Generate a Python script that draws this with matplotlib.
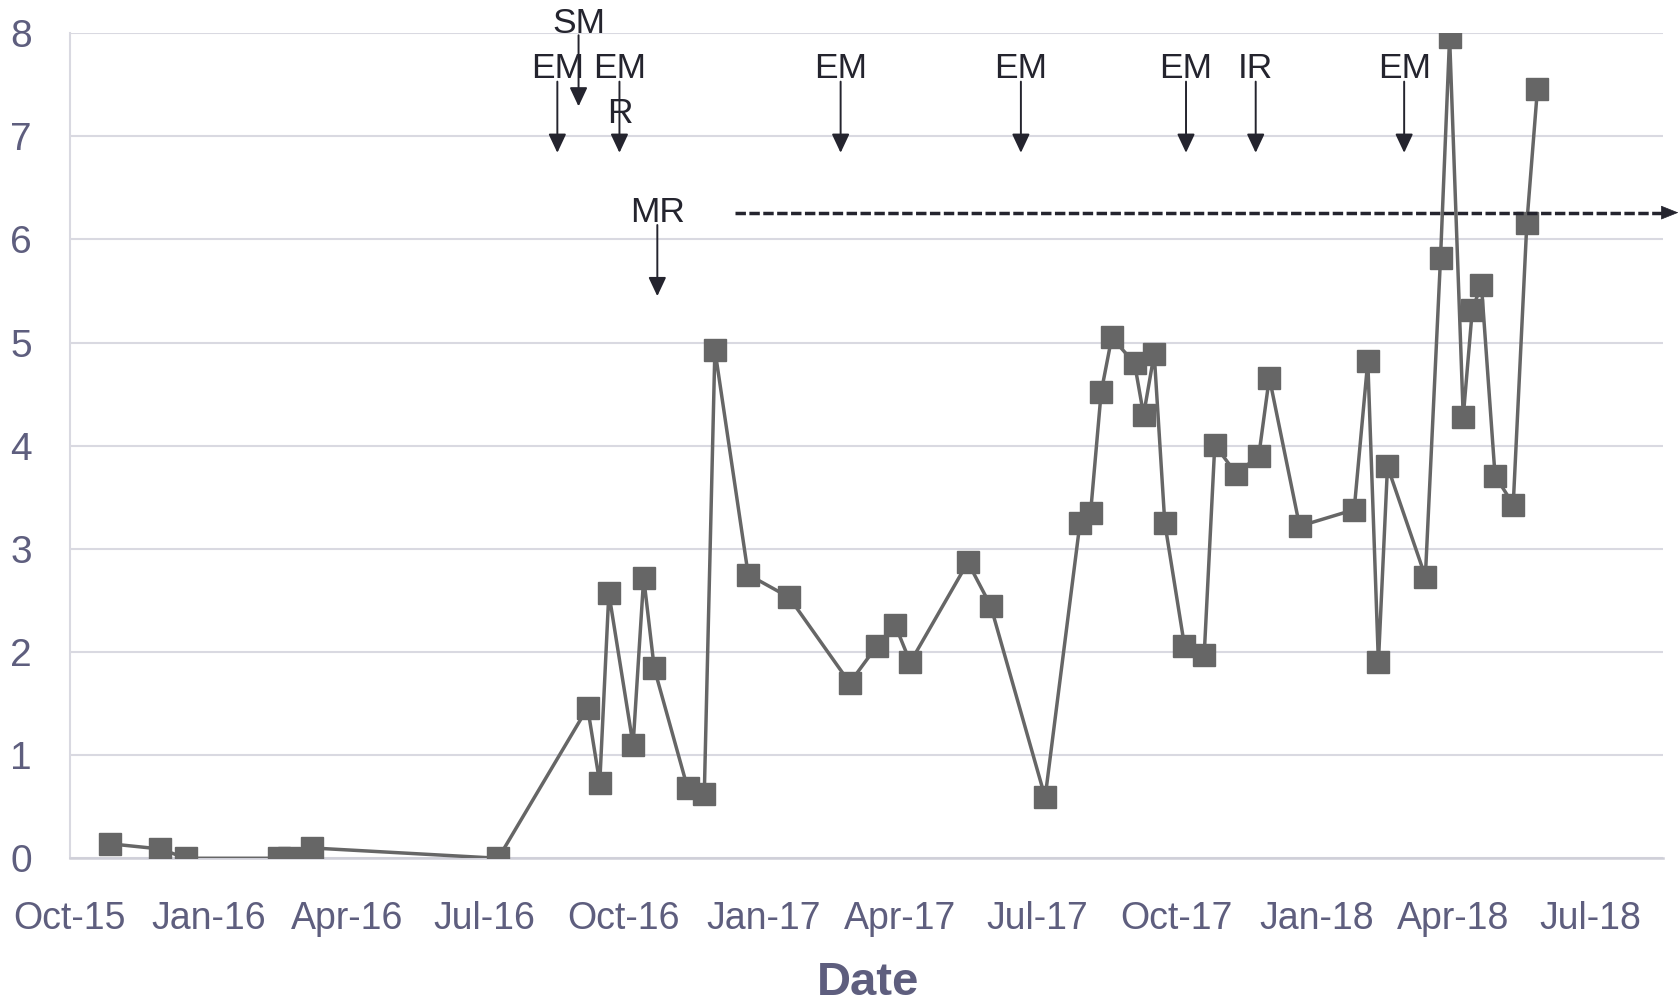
import numpy as np
import pandas as pd
import matplotlib
matplotlib.use("Agg")
import matplotlib.pyplot as plt
import matplotlib.dates as mdates

plt.rcParams['font.family'] = ['Liberation Sans', 'DejaVu Sans']

# measurement series
sample_dates = [
    "2015-10-28", "2015-11-30", "2015-12-17", "2016-02-16", "2016-02-23", "2016-03-09",
    "2016-07-10", "2016-09-07", "2016-09-15", "2016-09-21", "2016-10-07", "2016-10-14",
    "2016-10-21", "2016-11-12", "2016-11-23", "2016-11-30", "2016-12-22", "2017-01-18",
    "2017-02-27", "2017-03-17", "2017-03-29", "2017-04-08", "2017-05-16", "2017-05-31",
    "2017-07-06", "2017-07-29", "2017-08-05", "2017-08-12", "2017-08-19", "2017-09-03",
    "2017-09-09", "2017-09-16", "2017-09-23", "2017-10-06", "2017-10-19", "2017-10-26",
    "2017-11-09", "2017-11-24", "2017-12-01", "2017-12-21", "2018-01-26", "2018-02-04",
    "2018-02-11", "2018-02-17", "2018-03-14", "2018-03-24", "2018-03-30", "2018-04-08",
    "2018-04-14", "2018-04-20", "2018-04-29", "2018-05-11", "2018-05-20", "2018-05-27",
]
sample_values = [
    0.14, 0.09, 0.00, 0.00, 0.00, 0.10,
    0.00, 1.46, 0.73, 2.57, 1.10, 2.72,
    1.84, 0.68, 0.62, 4.93, 2.75, 2.53,
    1.70, 2.06, 2.26, 1.90, 2.87, 2.45,
    0.59, 3.25, 3.35, 4.52, 5.05, 4.80,
    4.30, 4.89, 3.25, 2.06, 1.97, 4.01,
    3.73, 3.90, 4.66, 3.22, 3.38, 4.82,
    1.90, 3.80, 2.73, 5.82, 7.96, 4.28,
    5.32, 5.56, 3.71, 3.43, 6.16, 7.46,
]

# event markers: label, date, text baseline y, arrow start y, arrow tip y
event_labels = ["EM", "SM", "EM", "MR", "EM", "EM", "EM", "IR", "EM"]
event_dates = ["2016-08-18", "2016-09-01", "2016-09-28", "2016-10-23", "2017-02-21",
               "2017-06-20", "2017-10-07", "2017-11-22", "2018-02-28"]
event_text_y = [7.565, 8.00, 7.565, 6.165, 7.565, 7.565, 7.565, 7.565, 7.565]
event_start_y = [7.53, 7.98, 7.53, 6.14, 7.53, 7.53, 7.53, 7.53, 7.53]
event_tip_y = [6.84, 7.29, 6.84, 5.45, 6.84, 6.84, 6.84, 6.84, 6.84]

ongoing_start = "2016-12-13"
ongoing_end = "2018-08-28"
ongoing_y = 6.26

axis_color = '#5e5e7e'
grid_color = '#d9d9e1'
ink = '#24242e'

x = pd.to_datetime(sample_dates)

fig = plt.figure(figsize=(16.8, 10.05), dpi=100)
ax = fig.add_axes([0.0414, 0.146, 0.9486, 0.821])

ax.plot(x, sample_values, color='#666666', lw=2.5, marker='s', markersize=15.5,
        markerfacecolor='#666666', markeredgecolor='#666666', zorder=3)

ax.set_xlim(pd.Timestamp("2015-10-01"), pd.Timestamp("2018-08-18"))
ax.set_ylim(0, 8)
ax.set_yticks(range(0, 9))

ax.xaxis.set_major_locator(mdates.MonthLocator(bymonth=[1, 4, 7, 10]))
ax.xaxis.set_major_formatter(mdates.DateFormatter('%b-%y'))

ax.grid(axis='y', color=grid_color, lw=1.5, zorder=0)
ax.set_axisbelow(True)
for side in ['top', 'right']:
    ax.spines[side].set_visible(False)
ax.spines['left'].set_color(grid_color)
ax.spines['left'].set_linewidth(1.5)
ax.spines['bottom'].set_color('#cfcfd8')
ax.spines['bottom'].set_linewidth(1.8)

ax.tick_params(axis='both', length=0, colors=axis_color)
ax.tick_params(axis='y', pad=27, labelsize=28)
ax.tick_params(axis='x', pad=31, labelsize=27)

fig.text(0.517, 0.0095, 'Date', ha='center', va='baseline', fontsize=34,
         fontweight='bold', color=axis_color)

# event arrows
for lab, d, ty, sy, tip in zip(event_labels, event_dates, event_text_y, event_start_y, event_tip_y):
    dt = pd.Timestamp(d)
    ax.text(dt, ty, lab, ha='center', va='baseline', fontsize=25.5, color=ink, clip_on=False)
    ax.annotate('', xy=(dt, tip), xytext=(dt, sy), annotation_clip=False,
                arrowprops=dict(arrowstyle='-|>,head_length=1.15,head_width=0.54',
                                mutation_scale=10, lw=1.4, color=ink,
                                shrinkA=0, shrinkB=0))
ax.text(pd.Timestamp(event_dates[2]), 7.13, 'R', ha='center', va='baseline',
        fontsize=25.5, color=ink)

# ongoing period arrow
x0 = pd.Timestamp(ongoing_start)
x1 = pd.Timestamp(ongoing_end)
ax.plot([x0, x1 - pd.Timedelta(days=9)], [ongoing_y, ongoing_y], color=ink, lw=2.5,
        linestyle=(0, (3.0, 1.0)), clip_on=False, zorder=4)
ax.annotate('', xy=(x1, ongoing_y), xytext=(x1 - pd.Timedelta(days=10), ongoing_y),
            annotation_clip=False,
            arrowprops=dict(arrowstyle='-|>,head_length=1.15,head_width=0.46',
                            mutation_scale=10, lw=0.5, color=ink,
                            shrinkA=0, shrinkB=0))

fig.savefig('out.png', dpi=100)
